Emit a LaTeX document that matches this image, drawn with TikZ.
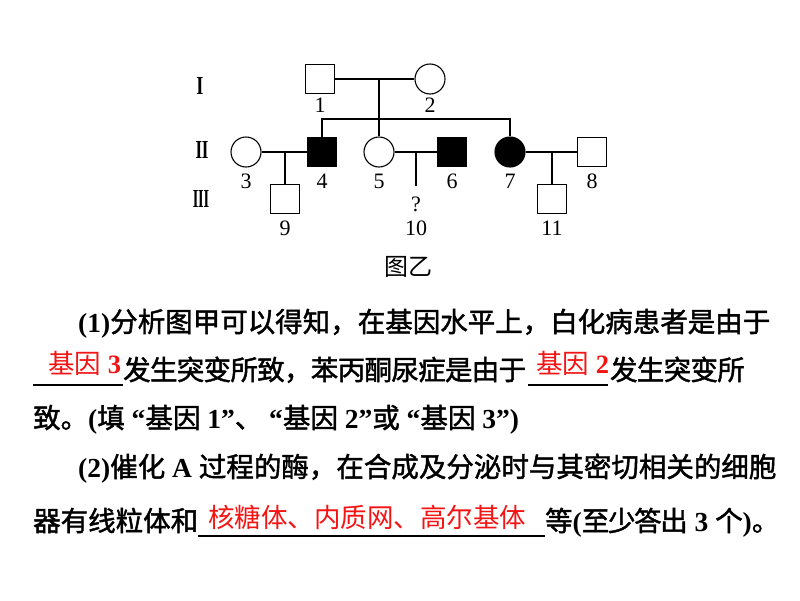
\documentclass[tikz,border=0pt]{standalone}
\usepackage{fontspec}
\setmainfont{Liberation Serif}
\newfontfamily\cjk{Noto Sans CJK SC}
\newfontfamily\cjkheavy{Noto Sans CJK SC}[FakeBold=1.6]
\usetikzlibrary{positioning}
\definecolor{Ans}{HTML}{F41414}
\newcommand{\lat}[1]{{\normalfont\bfseries #1}}
\newcommand{\blank}[1]{\rule[-5.5pt]{#1}{1.3pt}}
\tikzset{
male/.style={draw, rectangle, minimum size=29pt, inner sep=0pt, line width=1.1pt},
female/.style={draw, circle, minimum size=30pt, inner sep=0pt, line width=1.1pt},
ill/.style={fill=black},
kin/.style={line width=1.1pt},
num/.style={font=\fontsize{22}{22}\selectfont, inner sep=0pt},
gen/.style={font=\bfseries\fontsize{26}{26}\selectfont, inner sep=0pt},
qline/.style={font=\cjkheavy\fontsize{27.5}{27.5}\selectfont, anchor=base west, inner sep=0pt},
answer/.style={font=\cjk\fontsize{26.5}{26.5}\selectfont, text=Ans, anchor=base west, inner sep=0pt}
}
\begin{document}
\begin{tikzpicture}[x=1pt, y=-1pt]
  \useasboundingbox (0,0) rectangle (800,600);
  % generations
  \node[gen] (g1) at (200,86) {\scalebox{0.7}[1]{I}};
  \node[gen] (g2) at (202,150) {\scalebox{0.65}[1]{I\kern-0.5ptI}};
  \node[gen] (g3) at (201,199) {\scalebox{0.55}[1]{I\kern-0.5ptI\kern-0.5ptI}};
  % pedigree
  \node[male] (p1) at (320,79) {};
  \node[female] (p2) at (430,79) {};
  \node[female] (p3) at (246,152) {};
  \node[male, ill] (p4) at (322,152) {};
  \node[female] (p5) at (379,152) {};
  \node[male, ill] (p6) at (452,152) {};
  \node[female, ill] (p7) at (510,152) {};
  \node[male] (p8) at (592,152) {};
  \node[male] (p9) at (285,199) {};
  \node[male] (p11) at (552,199) {};
  \coordinate (m12) at (379,79);
  \coordinate (sib) at (379,119);
  \coordinate (m34) at (285,152);
  \coordinate (m56) at (416,152);
  \coordinate (m78) at (552,152);
  \coordinate (q10) at (416,186);
  \draw[kin] (p1) -- (p2);
  \draw[kin] (m12) -- (p5.north);
  \draw[kin] (p4.north) |- (sib) -| (p7.north);
  \draw[kin] (p3) -- (p4);
  \draw[kin] (m34) -- (p9);
  \draw[kin] (p5) -- (p6);
  \draw[kin] (m56) -- (q10);
  \draw[kin] (p7) -- (p8);
  \draw[kin] (m78) -- (p11);
  % numbers
  \node[num] (n1) at (320,105) {1};
  \node[num] (n2) at (430,105) {2};
  \node[num] (n3) at (246,181) {3};
  \node[num] (n4) at (322,181) {4};
  \node[num] (n5) at (379,181) {5};
  \node[num] (n6) at (452,181) {6};
  \node[num] (n7) at (510,181) {7};
  \node[num] (n8) at (592,181) {8};
  \node[num] (n9) at (285,228) {9};
  \node[num] (qm) at (416,204) {?};
  \node[num] (n10) at (416,228) {10};
  \node[num] (n11) at (552,228) {11};
  \node[font=\cjk\fontsize{24}{24}\selectfont, inner sep=0pt] (cap) at (408,267) {图乙};
  % question text
  \node[qline] (q1) at (78,332) {\lat{(1)}分析图甲可以得知，在基因水平上，白化病患者是由于};
  \node[qline] (q2) at (33,380) {\blank{90pt}\addfontfeatures{LetterSpace=-2.5}发生突变所致，苯丙酮尿症是由于\kern2pt\blank{80pt}\kern2pt发生突变所};
  \node[qline] (q3) at (33,428) {致。\lat{(}填\lat{ “}基因\lat{ 1”}、\lat{ “}基因\lat{ 2”}或\lat{ “}基因\lat{ 3”)}};
  \node[qline] (q4) at (78,477) {\lat{(2)}催化\lat{ A }过程的酶，在合成及分泌时与其密切相关的细胞};
  \node[qline] (q5) at (33,531) {器有线粒体和\blank{347pt}\addfontfeatures{LetterSpace=-5}等\lat{(}至少答出\lat{ 3 }个\lat{)}。};
  % answers
  \node[answer] (a1) at (48,373) {基因\lat{ 3}};
  \node[answer] (a2) at (536,373) {基因\lat{ 2}};
  \node[answer] (a3) at (208,527) {核糖体、内质网、高尔基体};
\end{tikzpicture}
\end{document}
